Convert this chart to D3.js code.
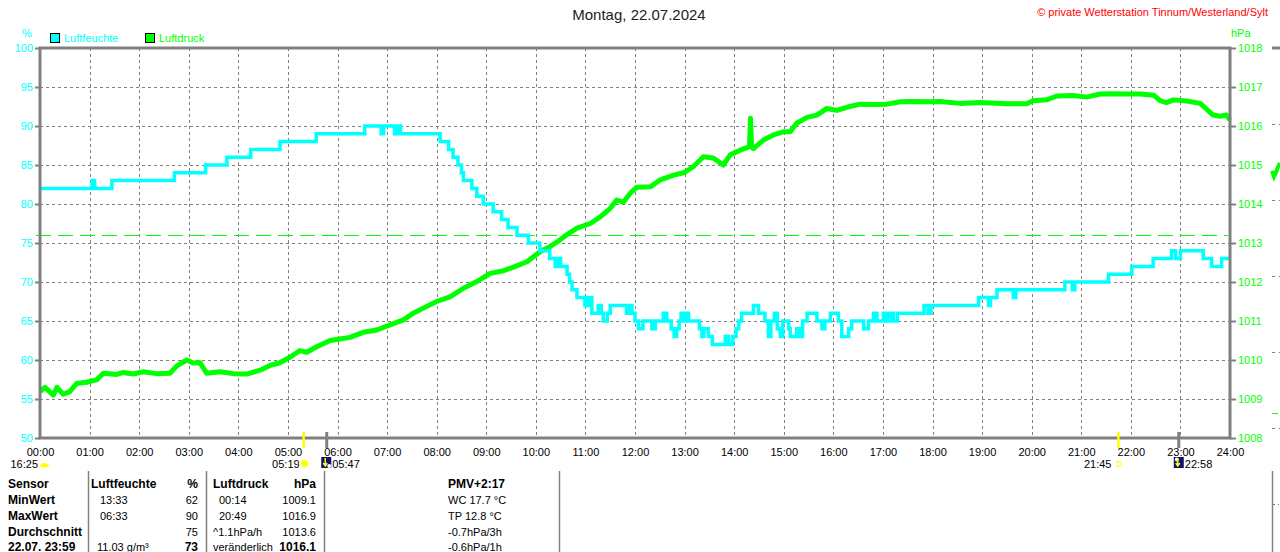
<!DOCTYPE html>
<html><head><meta charset="utf-8">
<script src="https://cdn.jsdelivr.net/npm/d3@7"></script>
<style>
html,body{margin:0;padding:0;background:#fff;}
svg{display:block;font-family:"Liberation Sans",Arial,sans-serif;}
</style></head>
<body><svg id="c" width="1280" height="552"></svg>
<script>
// ---------- DATA ----------
const title = "Montag, 22.07.2024";
const copyright = "\u00A9 private Wetterstation Tinnum/Westerland/Sylt";
const hourTicks = d3.range(0, 25);
const humTicks = [50,55,60,65,70,75,80,85,90,95,100];
const presTicks = [1008,1009,1010,1011,1012,1013,1014,1015,1016,1017,1018];

// humidity (%) change points: hour, value (step after)
const humT = [0,1.05,1.10,1.45,2.71,3.34,3.77,4.25,4.84,5.57,6.55,6.88,6.93,7.15,7.20,7.27,8.07,8.24,8.33,8.43,8.50,8.54,8.71,8.81,8.94,9.14,9.31,9.44,9.62,9.85,10.08,10.28,10.39,10.45,10.50,10.63,10.68,10.73,10.83,10.99,11.06,11.13,11.26,11.32,11.36,11.44,11.50,11.83,11.90,11.94,12.00,12.07,12.16,12.34,12.41,12.57,12.64,12.73,12.79,12.84,12.89,12.93,12.98,13.03,13.08,13.30,13.35,13.39,13.48,13.56,13.82,13.89,13.97,14.04,14.09,14.15,14.39,14.49,14.62,14.69,14.74,14.81,14.87,14.93,14.98,15.10,15.13,15.26,15.32,15.38,15.47,15.67,15.77,15.83,15.94,16.10,16.17,16.31,16.37,16.61,16.71,16.81,16.88,17.01,17.08,17.15,17.21,17.29,17.83,17.91,17.97,18.93,19.13,19.17,19.30,19.63,19.68,20.67,20.82,20.87,21.55,22.02,22.45,22.82,22.90,23.00,23.46,23.63,23.83,24.00];
const humV = [82,83,82,83,84,85,86,87,88,89,90,89,90,89,90,89,88,87,86,85,84,83,82,81,80,79,78,77,76,75,74,73,72,73,72,71,70,69,68,67,68,66,67,66,65,66,67,66,67,66,65,64,65,64,65,66,65,64,63,64,65,66,65,66,65,64,63,64,63,62,63,62,63,64,65,66,67,66,65,63,65,66,64,63,65,64,63,64,63,65,66,65,64,65,66,65,63,64,65,64,65,66,65,66,65,66,65,66,67,66,67,68,67,68,69,68,69,70,69,70,71,72,73,74,73,74,73,72,73,73];

// air pressure (hPa) readings: hour, value
const presT = [0.00,0.10,0.27,0.34,0.47,0.60,0.74,0.94,1.14,1.28,1.55,1.68,1.88,2.08,2.35,2.62,2.76,2.96,3.09,3.23,3.36,3.63,3.90,4.17,4.44,4.64,4.84,5.04,5.24,5.38,5.58,5.85,6.05,6.25,6.52,6.79,7.06,7.33,7.53,7.73,8.00,8.27,8.54,8.81,9.08,9.35,9.55,9.82,10.09,10.29,10.49,10.62,10.83,11.10,11.30,11.50,11.63,11.77,11.90,12.04,12.31,12.51,12.78,12.98,13.18,13.38,13.58,13.78,13.92,14.12,14.31,14.33,14.35,14.39,14.59,14.79,14.99,15.13,15.26,15.47,15.67,15.87,16.07,16.27,16.54,16.81,17.08,17.35,17.62,17.89,18.15,18.56,18.96,19.50,19.90,20.03,20.30,20.51,20.84,21.11,21.38,21.65,21.92,22.19,22.46,22.59,22.72,22.86,23.13,23.40,23.53,23.66,23.80,23.93,24.00];
const presV = [1009.19,1009.30,1009.10,1009.30,1009.12,1009.19,1009.40,1009.43,1009.49,1009.66,1009.63,1009.68,1009.64,1009.70,1009.65,1009.66,1009.85,1010.00,1009.92,1009.93,1009.66,1009.70,1009.65,1009.64,1009.74,1009.86,1009.93,1010.07,1010.24,1010.20,1010.34,1010.50,1010.54,1010.58,1010.71,1010.77,1010.90,1011.03,1011.20,1011.33,1011.50,1011.62,1011.84,1012.01,1012.22,1012.29,1012.38,1012.52,1012.78,1012.91,1013.08,1013.21,1013.38,1013.50,1013.67,1013.89,1014.10,1014.05,1014.27,1014.43,1014.44,1014.62,1014.74,1014.80,1014.96,1015.21,1015.18,1015.00,1015.26,1015.38,1015.47,1016.20,1015.45,1015.42,1015.64,1015.77,1015.85,1015.85,1016.07,1016.22,1016.28,1016.45,1016.40,1016.48,1016.56,1016.55,1016.56,1016.62,1016.63,1016.62,1016.63,1016.58,1016.60,1016.57,1016.57,1016.65,1016.67,1016.77,1016.78,1016.74,1016.82,1016.83,1016.82,1016.82,1016.79,1016.65,1016.60,1016.67,1016.64,1016.58,1016.43,1016.28,1016.25,1016.28,1016.15];
const presRefLine = 1013.2;

// next (cut-off) chart fragment
const nextT = [0,0.04,0.08,0.12,0.16];
const nextV = [1014.85,1014.7,1014.8,1014.95,1015.05];

// sun / moon events
const events = [
  {label:"16:25", t:0,     kind:"sunset0", tick:false},
  {label:"05:19", t:5.317, kind:"sunrise", tick:true},
  {label:"05:47", t:5.783, kind:"moonset", tick:true},
  {label:"21:45", t:21.75, kind:"sunset",  tick:true},
  {label:"22:58", t:22.967,kind:"moonrise",tick:true}
];

// table
const rowLabels = ["Sensor","MinWert","MaxWert","Durchschnitt","22.07. 23:59"];
const humTimesTxt = ["Luftfeuchte","13:33","06:33","","11.03 g/m\u00B3"];
const humValsTxt = ["%","62","90","75","73"];
const presTimesTxt = ["Luftdruck","00:14","20:49","^1.1hPa/h","ver\u00E4nderlich"];
const presValsTxt = ["hPa","1009.1","1016.9","1013.6","1016.1"];
const extraTxt = ["PMV+2:17","WC 17.7 \u00B0C","TP 12.8 \u00B0C","-0.7hPa/3h","-0.6hPa/1h"];

// ---------- DRAW ----------
const CYAN="#00ffff", GREEN="#00ff00", GRAY="#808080";
const svg = d3.select("#c");
const L=40,R=1230,T=48,B=438;
const x = d3.scaleLinear().domain([0,24]).range([L,R]);
const yH = d3.scaleLinear().domain([50,100]).range([B,T]);
const yP = d3.scaleLinear().domain([1008,1018]).range([B,T]);

// title
svg.append("text").attr("x",639).attr("y",20).attr("text-anchor","middle")
  .attr("font-size",15).attr("fill","#222").text(title);
svg.append("text").attr("x",1268).attr("y",16).attr("text-anchor","end")
  .attr("font-size",11).attr("fill","#ff0000").text(copyright);

// units & legend
svg.append("text").attr("x",27).attr("y",37).attr("text-anchor","middle").attr("font-size",11).attr("fill",CYAN).text("%");
svg.append("text").attr("x",1231).attr("y",37).attr("font-size",11).attr("fill",GREEN).text("hPa");
const legend=[{n:"Luftfeuchte",c:CYAN,x:50},{n:"Luftdruck",c:GREEN,x:145}];
legend.forEach(d=>{
  svg.append("rect").attr("x",d.x+0.5).attr("y",33.5).attr("width",9).attr("height",9).attr("fill",d.c).attr("stroke","#000");
  svg.append("text").attr("x",d.x+14).attr("y",42).attr("font-size",11).attr("fill",d.c).text(d.n);
});

// grid
const grid = svg.append("g").attr("stroke",GRAY).attr("stroke-dasharray","3,3").attr("stroke-width",1);
hourTicks.filter(h=>h>0&&h<24).forEach(h=>{
  grid.append("line").attr("x1",Math.round(x(h))+0.5).attr("x2",Math.round(x(h))+0.5).attr("y1",T).attr("y2",B);
});
humTicks.filter(v=>v>50&&v<100).forEach(v=>{
  grid.append("line").attr("x1",L).attr("x2",R).attr("y1",Math.round(yH(v))+0.5).attr("y2",Math.round(yH(v))+0.5);
});

// reference dashed line
svg.append("line").attr("x1",36).attr("x2",1228).attr("y1",Math.round(yP(presRefLine))+0.5).attr("y2",Math.round(yP(presRefLine))+0.5)
  .attr("stroke",GREEN).attr("stroke-width",1).attr("stroke-dasharray","15,7");

// left axis
const ax = svg.append("g").attr("transform",`translate(${L},0)`)
  .call(d3.axisLeft(yH).tickValues(humTicks).tickSize(5).tickPadding(2).tickFormat(d3.format("d")));
ax.select(".domain").remove();
ax.selectAll(".tick line").attr("stroke",GRAY).attr("stroke-width",2);
ax.selectAll(".tick text").attr("fill",CYAN).attr("font-size",11).attr("font-family","Liberation Sans,Arial,sans-serif");
// right axis
const ar = svg.append("g").attr("transform",`translate(${R},0)`)
  .call(d3.axisRight(yP).tickValues(presTicks).tickSize(6).tickPadding(2).tickFormat(d3.format("d")));
ar.select(".domain").remove();
ar.selectAll(".tick line").attr("stroke",GRAY).attr("stroke-width",2);
ar.selectAll(".tick text").attr("fill",GREEN).attr("font-size",11).attr("font-family","Liberation Sans,Arial,sans-serif");
// bottom axis labels
const ab = svg.append("g").attr("transform",`translate(0,${B})`)
  .call(d3.axisBottom(x).tickValues(hourTicks).tickSize(0).tickPadding(10)
    .tickFormat(h=>String(h).padStart(2,"0")+":00"));
ab.select(".domain").remove();
ab.selectAll(".tick text").attr("fill","#000").attr("font-size",11).attr("font-family","Liberation Sans,Arial,sans-serif");

// lines
const humData = humT.map((t,i)=>[t,humV[i]]);
const presData = presT.map((t,i)=>[t,presV[i]]);
svg.append("path").datum(presData)
  .attr("d",d3.line().x(d=>x(d[0])).y(d=>yP(d[1])).curve(d3.curveLinear))
  .attr("fill","none").attr("stroke",GREEN).attr("stroke-width",5).attr("stroke-linejoin","round");
svg.append("path").datum(humData)
  .attr("d",d3.line().x(d=>x(d[0])).y(d=>yH(d[1])).curve(d3.curveStepAfter))
  .attr("fill","none").attr("stroke",CYAN).attr("stroke-width",3.5);

// frame
svg.append("rect").attr("x",L).attr("y",T).attr("width",R-L).attr("height",B-T)
  .attr("fill","none").attr("stroke",GRAY).attr("stroke-width",3);

// events
events.forEach(e=>{
  const ex = x(e.t);
  if(e.tick){
    const isMoon = e.kind.startsWith("moon");
    svg.append("line").attr("x1",ex).attr("x2",ex).attr("y1",432).attr("y2",448)
      .attr("stroke",isMoon?GRAY:"#ffff00").attr("stroke-width",isMoon?3:2.5);
  }
  const g = svg.append("g");
  if(e.kind==="sunset0"){
    g.append("text").attr("x",ex-2).attr("y",468).attr("text-anchor","end").attr("font-size",11).text(e.label);
    g.append("path").attr("d",`M${ex},${467}A4.5,4 0 0 1 ${ex+9},${467}Z`).attr("fill","#ffff00");
  } else if(e.kind==="sunrise"){
    g.append("text").attr("x",ex-4).attr("y",468).attr("text-anchor","end").attr("font-size",11).text(e.label);
    g.append("circle").attr("cx",ex+1).attr("cy",463.5).attr("r",3.5).attr("fill","#ffff00");
    d3.range(8).forEach(k=>{const a=k*Math.PI/4;
      g.append("line").attr("x1",ex+1+Math.cos(a)*4.5).attr("y1",463.5+Math.sin(a)*4.5)
       .attr("x2",ex+1+Math.cos(a)*6).attr("y2",463.5+Math.sin(a)*6).attr("stroke","#ffff99").attr("stroke-width",1.2);});
  } else if(e.kind==="sunset"){
    g.append("text").attr("x",ex-7).attr("y",468).attr("text-anchor","end").attr("font-size",11).text(e.label);
    g.append("rect").attr("x",ex-1.5).attr("y",462).attr("width",4).attr("height",4).attr("fill","none").attr("stroke","#ffff00");
  } else {
    const bx = e.kind==="moonset"? ex-5.5 : ex-5;
    g.append("rect").attr("x",bx).attr("y",457).attr("width",10).attr("height",11).attr("fill","#101070");
    g.append("circle").attr("cx",bx+(e.kind==="moonset"?8:3)).attr("cy",e.kind==="moonset"?466:459.5).attr("r",2).attr("fill","#fff");
    g.append("path").attr("d",`M${bx+4},${458}V${466}M${bx+2},${463}L${bx+4},${466}L${bx+6},${463}`)
      .attr("stroke","#ffff00").attr("stroke-width",1.5).attr("fill","none");
    g.append("text").attr("x",bx+11).attr("y",468).attr("font-size",11).text(e.label);
  }
});

// table
const rowY = [488,504,520,535.5,550.5];
const tbl = svg.append("g").attr("font-size",11).attr("fill","#000");
function txt(xp,yp,s,opt){opt=opt||{};
  tbl.append("text").attr("x",xp).attr("y",yp).attr("text-anchor",opt.end?"end":"start")
    .attr("font-weight",opt.bold?"bold":"normal").attr("font-size",opt.bold?12:11).text(s);}
rowLabels.forEach((s,i)=>txt(8,rowY[i],s,{bold:true}));
humTimesTxt.forEach((s,i)=>txt(i===0?91:(i===4?97:100),rowY[i],s,{bold:i===0}));
humValsTxt.forEach((s,i)=>txt(198,rowY[i],s,{bold:i===0||i===4,end:true}));
presTimesTxt.forEach((s,i)=>txt((i===0||i>=3)?213:219,rowY[i],s,{bold:i===0}));
presValsTxt.forEach((s,i)=>txt(316,rowY[i],s,{bold:i===0||i===4,end:true}));
extraTxt.forEach((s,i)=>txt(448,rowY[i],s,{bold:i===0}));
[88,206,324,559,1272].forEach(vx=>{
  svg.append("line").attr("x1",vx+0.5).attr("x2",vx+0.5).attr("y1",471).attr("y2",552).attr("stroke",GRAY).attr("stroke-width",1.5);
});
svg.append("line").attr("x1",1272).attr("x2",1279).attr("y1",504.5).attr("y2",504.5).attr("stroke",GRAY).attr("stroke-dasharray","3,3");

// cut-off neighbour chart fragment
const xN = d3.scaleLinear().domain([0,24]).range([1272,2462]);
svg.append("line").attr("x1",xN(0)).attr("x2",1280).attr("y1",T).attr("y2",T).attr("stroke",GRAY).attr("stroke-width",3);
const yN = d3.scaleLinear().domain([0,5]).range([T,428]);
[1,2,3,4,5].forEach(k=>{
  svg.append("line").attr("x1",xN(0)).attr("x2",1280).attr("y1",Math.round(yN(k))+0.5).attr("y2",Math.round(yN(k))+0.5)
    .attr("stroke",GRAY).attr("stroke-dasharray","3,4");
});
svg.append("path").datum(nextT.map((t,i)=>[t,nextV[i]]))
  .attr("d",d3.line().x(d=>xN(d[0])).y(d=>yP(d[1])))
  .attr("fill","none").attr("stroke",GREEN).attr("stroke-width",4);
svg.append("line").attr("x1",xN(0)).attr("x2",xN(0.12)).attr("y1",413.5).attr("y2",413.5).attr("stroke",GREEN);
</script></body></html>
